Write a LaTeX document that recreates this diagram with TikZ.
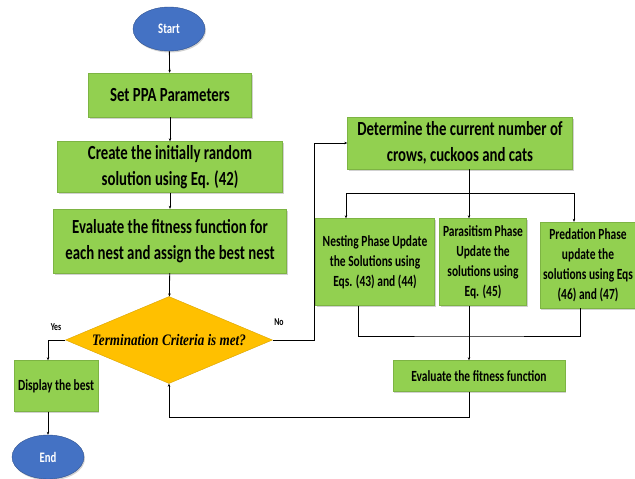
\documentclass[tikz,border=0pt]{standalone}
\usepackage{fontspec}
\setmainfont{Carlito}
\newfontfamily\boxfont{Carlito}[FakeStretch=0.74]
\newfontfamily\critfont{Liberation Serif}[FakeStretch=0.82]
\usetikzlibrary{shapes.geometric, shadows, arrows.meta}

\definecolor{boxgreen}{HTML}{92D050}
\definecolor{boxedge}{HTML}{7DB443}
\definecolor{termblue}{HTML}{4472C4}
\definecolor{termedge}{HTML}{2F528F}
\definecolor{critgold}{HTML}{FFC000}

\begin{document}
\begin{tikzpicture}[
  x=1pt, y=-1pt,
  box/.style = {rectangle, draw=boxedge, fill=boxgreen, align=center, inner sep=2pt,
    drop shadow={shadow xshift=1pt, shadow yshift=-1.5pt, fill=black!30, opacity=0.6}},
  bigbox/.style = {box, font=\boxfont\bfseries\fontsize{20}{26}\selectfont},
  smallbox/.style = {box, font=\boxfont\bfseries\fontsize{15.5}{20}\selectfont},
  term/.style = {ellipse, draw=termedge, fill=termblue, text=white, minimum width=72, minimum height=44,
    font=\boxfont\bfseries\fontsize{14.5}{16}\selectfont,
    drop shadow={shadow xshift=1pt, shadow yshift=-1.5pt, fill=black!30, opacity=0.6}},
  crit/.style = {diamond, draw=critgold!85!black, fill=critgold, aspect=2.38, inner sep=1pt,
    minimum width=207, minimum height=87, font=\critfont\itshape\bfseries\fontsize{16}{18}\selectfont},
  lbl/.style = {font=\boxfont\bfseries\fontsize{10.5}{12}\selectfont, inner sep=1pt},
  arrow/.style = {-{Stealth[length=3pt, width=2.5pt]}, line width=0.8pt}
]
\useasboundingbox (0,0) rectangle (635,479);

% Main column
\node[term] (start) at (169,29) {Start};
\node[bigbox, minimum width=163, minimum height=44] (ppa) at (170,95) {Set PPA Parameters};
\node[bigbox, minimum width=225, minimum height=51] (init) at (170,167) {Create the initially random\\solution using Eq. (42)};
\node[bigbox, minimum width=233, minimum height=64] (fit) at (170,241) {Evaluate the fitness function for\\each nest and assign the best nest};
\node[crit] (crit) at (169,340) {Termination Criteria is met?};

% Exit branch
\node[smallbox, minimum width=84, minimum height=51] (disp) at (56,386) {Display the best};
\node[term] (end) at (48,457) {End};
\node[lbl] (yes) at (56,327) {Yes};
\node[lbl] (no) at (279,322) {No};

% Update loop
\node[bigbox, minimum width=225, minimum height=52] (det) at (460,143) {Determine the current number of\\crows, cuckoos and cats};
\node[smallbox, minimum width=119, minimum height=87] (nest) at (375,262) {Nesting Phase Update\\the Solutions using\\Eqs. (43) and (44)};
\node[smallbox, minimum width=87, minimum height=87] (par) at (483,262) {Parasitism Phase\\Update the\\solutions using\\Eq. (45)};
\node[smallbox, minimum width=96, minimum height=86] (pred) at (588,265) {Predation Phase\\update the\\solutions using Eqs\\(46) and (47)};
\node[smallbox, minimum width=172, minimum height=31] (eval) at (479,376) {Evaluate the fitness function};

\coordinate (busT) at (469,193);
\coordinate (busB) at (469,336);

% Arrows down the main column
\draw[arrow] (start) -- (ppa);
\draw[arrow] (ppa) -- (init);
\draw[arrow] (init) -- (fit);
\draw[arrow] (fit) -- (crit);

% Yes / No
\draw[arrow] (crit.west) -| ([xshift=-8]disp.north);
\draw[arrow] ([xshift=-8]disp.south) -- (end);
\draw[arrow] (crit.east) -- ++(42,0) |- (det.west);

% Split to the three phases
\draw ([xshift=9]det.south) -- (busT);
\draw[arrow] (busT) -| ([xshift=-29]nest.north);
\draw[arrow] (busT) -- ([xshift=-14]par.north);
\draw[arrow] (busT) -| ([xshift=-14]pred.north);

% Join and evaluate
\draw ([xshift=-17]nest.south) |- (busB) -| ([xshift=-8]pred.south);
\draw[arrow] ([xshift=-14]par.south) -- ([xshift=-10]eval.north);
\draw[arrow] ([xshift=-10]eval.south) -- ++(0,26) -| (crit.south);

\end{tikzpicture}
\end{document}
